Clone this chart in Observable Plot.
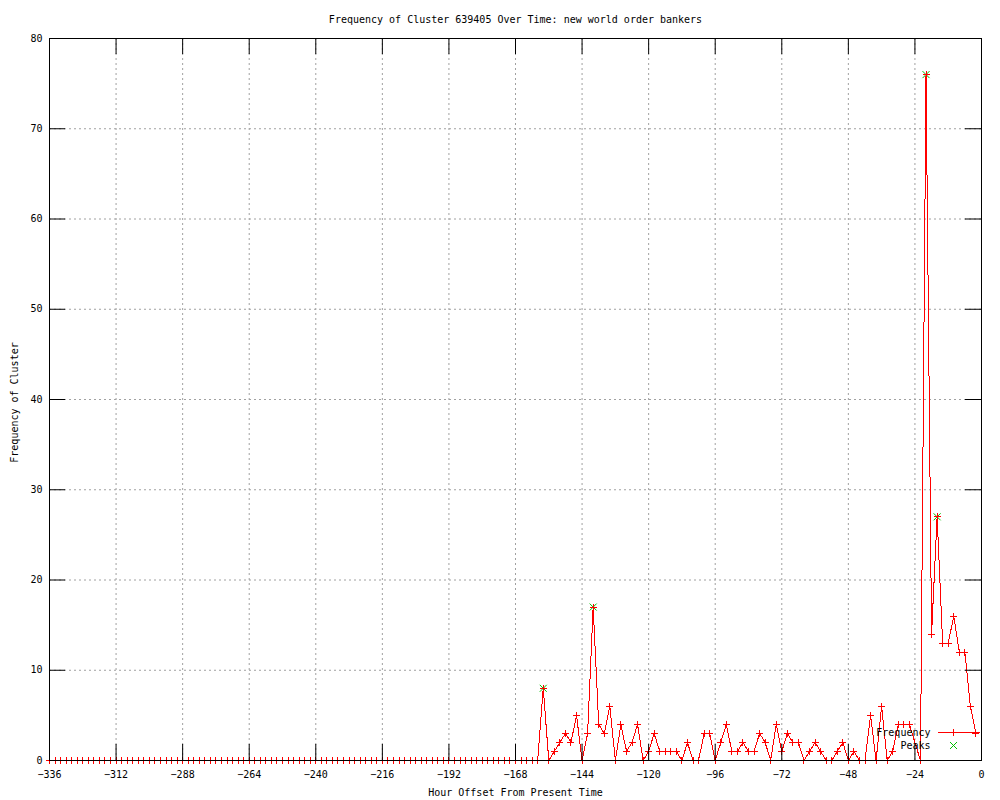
<!DOCTYPE html>
<html><head><meta charset="utf-8">
<script src="https://cdn.jsdelivr.net/npm/d3@7"></script>
<script src="https://cdn.jsdelivr.net/npm/@observablehq/plot@0.6"></script>
<style>
html,body{margin:0;padding:0;background:#fff;}
#chart svg{display:block;}
</style></head><body><div id="chart"></div>
<script>
const title = "Frequency of Cluster 639405 Over Time: new world order bankers";
const xLabel = "Hour Offset From Present Time";
const yLabel = "Frequency of Cluster";
const legendLabels = ["Frequency", "Peaks"];

const hours = [
 -336,-334,-332,-330,-328,-326,-324,-322,-320,-318,-316,-314,
 -312,-310,-308,-306,-304,-302,-300,-298,-296,-294,-292,-290,
 -288,-286,-284,-282,-280,-278,-276,-274,-272,-270,-268,-266,
 -264,-262,-260,-258,-256,-254,-252,-250,-248,-246,-244,-242,
 -240,-238,-236,-234,-232,-230,-228,-226,-224,-222,-220,-218,
 -216,-214,-212,-210,-208,-206,-204,-202,-200,-198,-196,-194,
 -192,-190,-188,-186,-184,-182,-180,-178,-176,-174,-172,-170,
 -168,-166,-164,-162,-160,-158,-156,-154,-152,-150,-148,-146,
 -144,-142,-140,-138,-136,-134,-132,-130,-128,-126,-124,-122,
 -120,-118,-116,-114,-112,-110,-108,-106,-104,-102,-100,-98,
 -96,-94,-92,-90,-88,-86,-84,-82,-80,-78,-76,-74,
 -72,-70,-68,-66,-64,-62,-60,-58,-56,-54,-52,-50,
 -48,-46,-44,-42,-40,-38,-36,-34,-32,-30,-28,-26,
 -22,-20,-18,-16,-14,-12,-10,-8,-6,-4,-2
];
const frequency = [
 0,0,0,0,0,0,0,0,0,0,0,0,
 0,0,0,0,0,0,0,0,0,0,0,0,
 0,0,0,0,0,0,0,0,0,0,0,0,
 0,0,0,0,0,0,0,0,0,0,0,0,
 0,0,0,0,0,0,0,0,0,0,0,0,
 0,0,0,0,0,0,0,0,0,0,0,0,
 0,0,0,0,0,0,0,0,0,0,0,0,
 0,0,0,0,0,8,0,1,2,3,2,5,
 0,3,17,4,3,6,0,4,1,2,4,0,
 1,3,1,1,1,1,0,2,0,0,3,3,
 0,2,4,1,1,2,1,1,3,2,0,4,
 1,3,2,2,0,1,2,1,0,0,1,2,
 0,1,0,0,5,0,6,0,1,4,4,4,
 0,76,14,27,13,13,16,12,12,6,3
];
const peakHours = [-158, -140, -20, -16];
const peakValues = [8, 17, 76, 27];
const xTicks = [-336,-312,-288,-264,-240,-216,-192,-168,-144,-120,-96,-72,-48,-24,0];
const yTicks = [0,10,20,30,40,50,60,70,80];

const W = 1000, H = 800;
const mL = 49, mR = 19, mT = 38, mB = 40;
const frameW = W - mL - mR, frameH = H - mT - mB;
const tickLen = 16;
const font = "'DejaVu Sans Mono', monospace";
const red = "#ff0000", green = "#00c000", gridGray = "#a0a0a0";
const ARM = 3.5;

const plusSymbol = {draw(ctx) {
  ctx.moveTo(-ARM, 0); ctx.lineTo(ARM, 0);
  ctx.moveTo(0, -ARM); ctx.lineTo(0, ARM);
}};
const timesSymbol = {draw(ctx) {
  ctx.moveTo(-ARM, -ARM); ctx.lineTo(ARM, ARM);
  ctx.moveTo(-ARM, ARM); ctx.lineTo(ARM, -ARM);
}};

const data = hours.map((h, i) => ({h, f: frequency[i]}));
const peaks = peakHours.map((h, i) => ({h, f: peakValues[i]}));

const chart = Plot.plot({
  width: W, height: H,
  marginLeft: mL, marginRight: mR, marginTop: mT, marginBottom: mB,
  style: {fontFamily: font, fontSize: "10px", background: "#fff", color: "#000"},
  x: {domain: [-336, 0]},
  y: {domain: [0, 80]},
  marks: [
    Plot.gridX(xTicks.slice(1, -1), {stroke: gridGray, strokeOpacity: 1, strokeDasharray: "2,3"}),
    Plot.gridY(yTicks.slice(1, -1), {stroke: gridGray, strokeOpacity: 1, strokeDasharray: "2,3"}),
    Plot.axisX(xTicks, {tickSize: 0, tickPadding: 10, label: null, fontSize: 10}),
    Plot.axisY(yTicks, {tickSize: 0, tickPadding: 7, label: null, fontSize: 10}),
    Plot.line(data, {x: "h", y: "f", stroke: red, strokeWidth: 1, shapeRendering: "crispEdges"}),
    Plot.dot(peaks, {x: "h", y: "f", symbol: timesSymbol, fill: "none", stroke: green, strokeWidth: 1}),
    Plot.dot(data, {x: "h", y: "f", symbol: plusSymbol, fill: "none", stroke: red, strokeWidth: 1, shapeRendering: "crispEdges"}),
    Plot.tickX(xTicks, {x: d => d, stroke: "#000", insetTop: frameH - tickLen}),
    Plot.tickX(xTicks, {x: d => d, stroke: "#000", insetBottom: frameH - tickLen}),
    Plot.tickY(yTicks, {y: d => d, stroke: "#000", insetRight: frameW - tickLen}),
    Plot.tickY(yTicks, {y: d => d, stroke: "#000", insetLeft: frameW - tickLen}),
    Plot.frame({stroke: "#000", strokeWidth: 1}),
    Plot.text([title], {frameAnchor: "top", dy: -23, fontSize: 10}),
    Plot.text([xLabel], {frameAnchor: "bottom", dy: 35, fontSize: 10}),
    Plot.text([yLabel], {frameAnchor: "left", dx: -35, dy: 3, rotate: -90, textAnchor: "middle", fontSize: 10}),
    Plot.text([legendLabels[0]], {frameAnchor: "bottom-right", dx: -51, dy: -25, textAnchor: "end", fontSize: 10}),
    Plot.text([legendLabels[1]], {frameAnchor: "bottom-right", dx: -51, dy: -12, textAnchor: "end", fontSize: 10})
  ]
});

// legend samples
const svg = d3.select(chart);
const rightX = W - mR + 0.5, bottomY = H - mB + 0.5;
const g = svg.append("g").attr("shape-rendering", "crispEdges");
const ly1 = bottomY - 28, ly2 = bottomY - 15, sx = rightX - 28;
g.append("line").attr("x1", rightX - 44).attr("x2", rightX - 2).attr("y1", ly1).attr("y2", ly1)
  .attr("stroke", red);
g.append("line").attr("x1", sx - ARM).attr("x2", sx + ARM).attr("y1", ly1).attr("y2", ly1).attr("stroke", red);
g.append("line").attr("x1", sx).attr("x2", sx).attr("y1", ly1 - ARM).attr("y2", ly1 + ARM).attr("stroke", red);
const g2 = svg.append("g");
g2.append("line").attr("x1", sx - ARM).attr("x2", sx + ARM).attr("y1", ly2 - ARM).attr("y2", ly2 + ARM).attr("stroke", green);
g2.append("line").attr("x1", sx - ARM).attr("x2", sx + ARM).attr("y1", ly2 + ARM).attr("y2", ly2 - ARM).attr("stroke", green);

document.getElementById("chart").appendChild(chart);
</script>
</body></html>
